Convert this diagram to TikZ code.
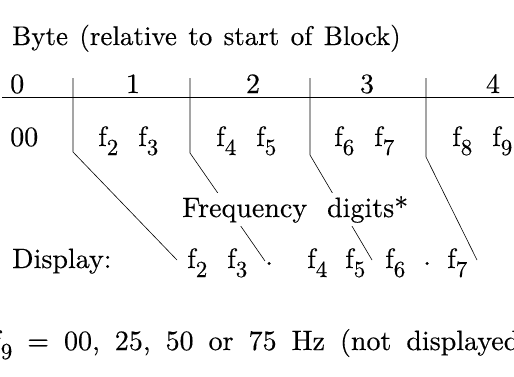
\documentclass[tikz,border=0pt]{standalone}
\usepackage{fontspec}
\setmainfont{lmroman10-regular.otf}[FakeBold=0.3]
\newcommand{\fsub}[1]{f\raisebox{-9pt}{\fontsize{23}{25}\selectfont #1}}
\newcommand{\rdot}{\raisebox{3pt}{.}}
\newcommand{\titlefont}{\fontsize{27}{31}\selectfont\spaceskip=0.42em\relax}
\newcommand{\notefont}{\fontsize{28}{32}\selectfont\spaceskip=15pt\relax}
\begin{document}
\begin{tikzpicture}[x=1pt,y=-1pt,
  txt/.style={inner sep=0pt, anchor=base west, font=\fontsize{28}{32}\selectfont},
  ctxt/.style={inner sep=0pt, anchor=base, font=\fontsize{28}{32}\selectfont},
  rulel/.style={line width=0.8pt},
  lead/.style={line width=0.6pt}]
\useasboundingbox (0,0) rectangle (514,376);
% title
\node[txt, font=\titlefont] (title) at (12,45) {Byte (relative to start of Block)};
% header numbers
\node[txt] (h0) at (10,93) {0};
\node[ctxt] (h1) at (133,93) {1};
\node[ctxt] (h2) at (253,93) {2};
\node[ctxt] (h3) at (367,93) {3};
\node[ctxt] (h4) at (493,93) {4};
% rule
\coordinate (r1) at (2,97);
\coordinate (r2) at (514,97);
\draw[rulel] (r1) -- (r2);
% row 2
\node[txt] (b0) at (10,146) {00};
\node[txt] (b1a) at (98,146) {\fsub{2}};
\node[txt] (b1b) at (138,146) {\fsub{3}};
\node[txt] (b2a) at (216,146) {\fsub{4}};
\node[txt] (b2b) at (256,146) {\fsub{5}};
\node[txt] (b3a) at (334,146) {\fsub{6}};
\node[txt] (b3b) at (374,146) {\fsub{7}};
\node[txt] (b4a) at (452,146) {\fsub{8}};
\node[txt] (b4b) at (492,146) {\fsub{9}};
% separators and leaders
\coordinate (s1t) at (73,78);  \coordinate (s1b) at (73,152);  \coordinate (e1) at (177,260);
\coordinate (s2t) at (190,78); \coordinate (s2b) at (190,153); \coordinate (e2) at (265,261);
\coordinate (s3t) at (310,78); \coordinate (s3b) at (310,155); \coordinate (e3) at (372,260);
\coordinate (s4t) at (426,78); \coordinate (s4b) at (426,157); \coordinate (e4) at (477,260);
\draw[lead] (s1t) -- (s1b) -- (e1);
\draw[lead] (s2t) -- (s2b) -- (e2);
\draw[lead] (s3t) -- (s3b) -- (e3);
\draw[lead] (s4t) -- (s4b) -- (e4);
% frequency digits label
\node[txt, fill=white, inner ysep=3pt] (freq) at (182,217) {Frequency\hskip 20pt digits*};
% display row
\node[txt] (disp) at (12,268) {Display:};
\node[txt] (d2) at (187,268) {\fsub{2}};
\node[txt] (d3) at (227,268) {\fsub{3}};
\node[txt] (dp1) at (265,268) {\rdot};
\node[txt] (d4) at (307,268) {\fsub{4}};
\node[txt] (d5) at (345,268) {\fsub{5}};
\node[txt] (d6) at (385,268) {\fsub{6}};
\node[txt] (dp2) at (423,268) {\rdot};
\node[txt] (d7) at (447,268) {\fsub{7}};
% footnote
\node[txt, font=\notefont] (note) at (-8,350) {\fsub{9} = 00, 25, 50 or 75 Hz (not displayed)};
\end{tikzpicture}
\end{document}
